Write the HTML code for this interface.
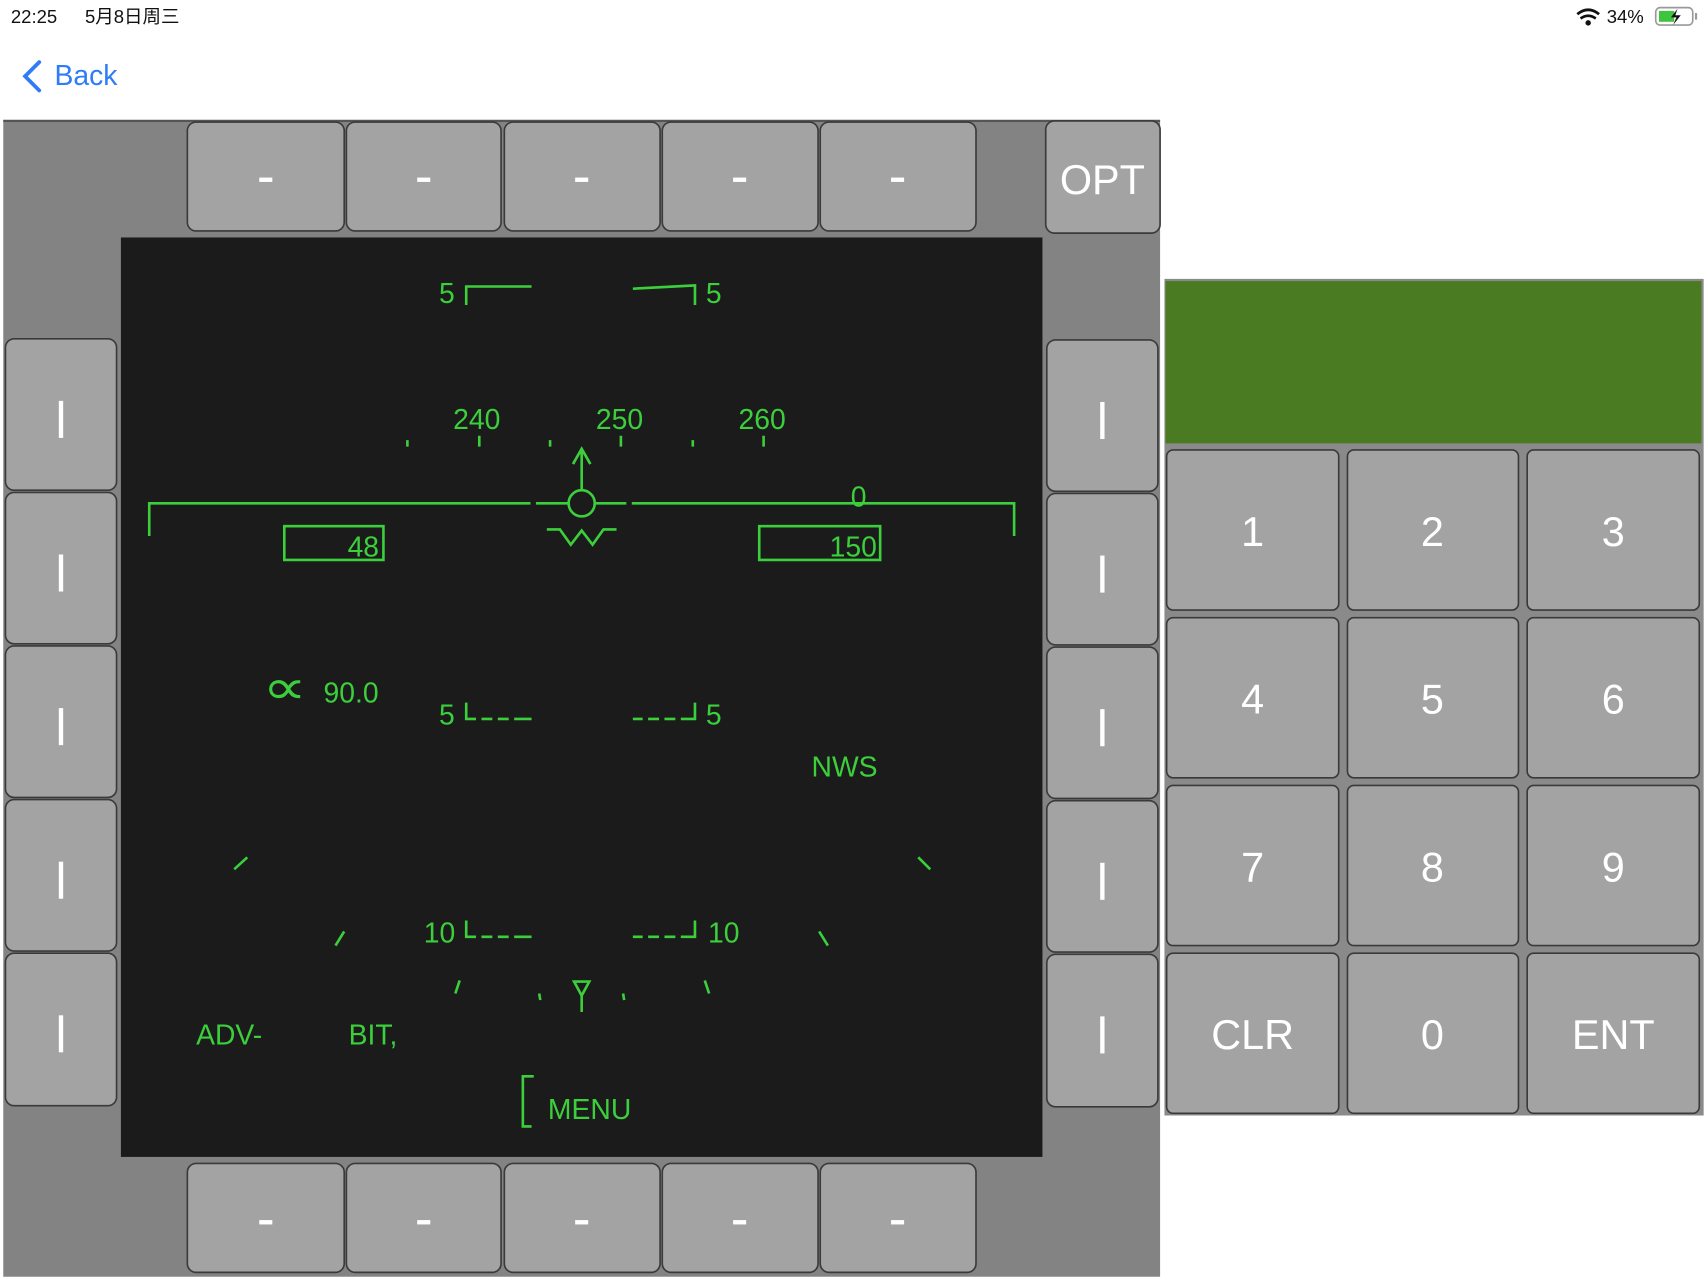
<!DOCTYPE html>
<html><head><meta charset="utf-8"><style>
html,body{margin:0;padding:0;background:#fff;width:1708px;height:1280px;overflow:hidden}
svg{display:block}
.g{fill:none;stroke:#3ccf3c;stroke-width:2.4}
.t{fill:#3ccf3c;font-family:"Liberation Sans",sans-serif;font-size:26px}
.btn{fill:#a3a3a3;stroke:#3a3a3a;stroke-width:1.5}
.w{fill:#fff;font-family:"Liberation Sans",sans-serif;text-anchor:middle}
</style></head><body>
<svg width="1708" height="1280" viewBox="0 0 1568 1175" preserveAspectRatio="none">
<rect width="1568" height="1175" fill="#fff"/>
<text x="10" y="21" font-family="Liberation Sans,sans-serif" font-size="17" fill="#111">22:25</text>
<text x="78" y="21" font-family="Liberation Sans,Noto Sans CJK SC,sans-serif" font-size="17" fill="#111">5月8日周三</text>
<text x="1475" y="21" font-family="Liberation Sans,sans-serif" font-size="17" fill="#111">34%</text>
<path d="M1448 13 q10 -8 20 0 M1451 17 q7 -5 14 0" stroke="#111" stroke-width="2.5" fill="none"/><circle cx="1458" cy="21" r="2.5" fill="#111"/>
<rect x="1520" y="7" width="34" height="16" rx="4" fill="none" stroke="#999" stroke-width="1.5"/><rect x="1523" y="10" width="14" height="10" fill="#3ec43e"/><path d="M1540 8 l-6 8 h5 l-3 7 l7 -9 h-5z" fill="#111"/><rect x="1556" y="12" width="2" height="6" fill="#999"/>
<path d="M36 57 L23 70 L36 83" stroke="#2f7cf6" stroke-width="3.5" fill="none" stroke-linecap="round"/>
<text x="50" y="78" font-family="Liberation Sans,sans-serif" font-size="26" fill="#2f7cf6">Back</text>
<rect x="3" y="110" width="1062" height="1062" fill="#838383"/>
<rect x="3" y="110" width="1062" height="2" fill="#555"/>
<g>
<rect class="btn" x="172" y="112" width="144" height="100" rx="8"/><rect class="btn" x="318" y="112" width="142" height="100" rx="8"/><rect class="btn" x="463" y="112" width="143" height="100" rx="8"/><rect class="btn" x="608" y="112" width="143" height="100" rx="8"/><rect class="btn" x="753" y="112" width="143" height="100" rx="8"/>
<rect class="btn" x="172" y="1068" width="144" height="100" rx="8"/><rect class="btn" x="318" y="1068" width="142" height="100" rx="8"/><rect class="btn" x="463" y="1068" width="143" height="100" rx="8"/><rect class="btn" x="608" y="1068" width="143" height="100" rx="8"/><rect class="btn" x="753" y="1068" width="143" height="100" rx="8"/>
<rect class="btn" x="960" y="111" width="105" height="103" rx="8"/>
</g>
<g fill="#fff"><rect x="238" y="163" width="12" height="4"/><rect x="383" y="163" width="12" height="4"/><rect x="528" y="163" width="12" height="4"/><rect x="673" y="163" width="12" height="4"/><rect x="818" y="163" width="12" height="4"/>
<rect x="238" y="1120" width="12" height="4"/><rect x="383" y="1120" width="12" height="4"/><rect x="528" y="1120" width="12" height="4"/><rect x="673" y="1120" width="12" height="4"/><rect x="818" y="1120" width="12" height="4"/></g>
<text class="w" x="1012" y="178" font-size="38">OPT</text>
<g>
<rect class="btn" x="5" y="311" width="102" height="139" rx="8"/><rect class="btn" x="5" y="452" width="102" height="139" rx="8"/><rect class="btn" x="5" y="593" width="102" height="139" rx="8"/><rect class="btn" x="5" y="734" width="102" height="139" rx="8"/><rect class="btn" x="5" y="875" width="102" height="140" rx="8"/>
<rect class="btn" x="961" y="312" width="102" height="139" rx="8"/><rect class="btn" x="961" y="453" width="102" height="139" rx="8"/><rect class="btn" x="961" y="594" width="102" height="139" rx="8"/><rect class="btn" x="961" y="735" width="102" height="139" rx="8"/><rect class="btn" x="961" y="876" width="102" height="140" rx="8"/>
</g>
<g fill="#fff"><rect x="54" y="368" width="4" height="34"/><rect x="54" y="509" width="4" height="34"/><rect x="54" y="650" width="4" height="34"/><rect x="54" y="791" width="4" height="34"/><rect x="54" y="932" width="4" height="34"/>
<rect x="1010" y="369" width="4" height="34"/><rect x="1010" y="510" width="4" height="34"/><rect x="1010" y="651" width="4" height="34"/><rect x="1010" y="792" width="4" height="34"/><rect x="1010" y="933" width="4" height="34"/></g>
<rect x="111" y="218" width="846" height="844" fill="#1b1b1b"/>
<!-- HUD -->
<text class="t" x="403" y="278">5</text><path class="g" d="M428 280 V263 H488"/>
<path class="g" d="M581 265 L638 262 V280"/><text class="t" x="648" y="278">5</text>
<text class="t" x="416" y="394">240</text><text class="t" x="547" y="394">250</text><text class="t" x="678" y="394">260</text>
<path class="g" d="M440 400V410 M570 400V410 M701 400V410 M374 404V410 M505 404V410 M636 404V410"/>
<path class="g" d="M137 492 V462 H487 M492 462 H521 M547 462 H575 M580 462 H931 V492"/>
<circle class="g" cx="534" cy="462" r="12"/>
<path class="g" d="M534 450 V413 M526 426 L534 412 L542 426"/>
<text class="t" x="781" y="465">0</text>
<rect class="g" x="261" y="483" width="91" height="31"/><text class="t" x="348" y="511" text-anchor="end" font-size="32">48</text>
<rect class="g" x="697" y="483" width="111" height="31"/><text class="t" x="805" y="511" text-anchor="end" font-size="32">150</text>
<path class="g" d="M502 486 H514 L524 500 L534 487 L544 500 L554 486 H566"/>
<text class="t" transform="translate(241,646) scale(2.2,1.7)">∝</text><text class="t" x="297" y="645">90.0</text>
<text class="t" x="403" y="665">5</text><path class="g" d="M428 645 V660 H488"/>
<path class="g" d="M581 660 H638 V645"/><text class="t" x="648" y="665">5</text>
<rect x="437" y="656" width="5" height="6" fill="#1b1b1b"/><rect x="452" y="656" width="5" height="6" fill="#1b1b1b"/><rect x="467" y="656" width="5" height="6" fill="#1b1b1b"/>
<rect x="590" y="656" width="5" height="6" fill="#1b1b1b"/><rect x="605" y="656" width="5" height="6" fill="#1b1b1b"/><rect x="620" y="656" width="5" height="6" fill="#1b1b1b"/>
<text class="t" x="745" y="713" font-size="24">NWS</text>
<path class="g" d="M215 798 L227 787 M843 787 L854 798 M308 868 L316 855 M752 855 L760 868 M418 912 L422 900 M647 900 L651 912 M495 912 L496 918 M572 912 L573 918"/>
<text class="t" x="389" y="865">10</text><path class="g" d="M428 845 V860 H488"/>
<path class="g" d="M581 860 H638 V845"/><text class="t" x="650" y="865">10</text>
<rect x="437" y="856" width="5" height="6" fill="#1b1b1b"/><rect x="452" y="856" width="5" height="6" fill="#1b1b1b"/><rect x="467" y="856" width="5" height="6" fill="#1b1b1b"/>
<rect x="590" y="856" width="5" height="6" fill="#1b1b1b"/><rect x="605" y="856" width="5" height="6" fill="#1b1b1b"/><rect x="620" y="856" width="5" height="6" fill="#1b1b1b"/>
<path class="g" d="M527 901 H541 L534 914 Z M534 914 V929"/>
<text class="t" x="180" y="959" font-size="25">ADV-</text><text class="t" x="320" y="959" font-size="25">BIT,</text>
<path class="g" d="M490 988 H480 V1034 H488"/>
<text class="t" x="503" y="1027" font-size="24">MENU</text>
<!-- keypad -->
<rect x="1069" y="256" width="495" height="768" fill="#8a8a8a"/>
<rect x="1070" y="258" width="492" height="149" fill="#4a7b22"/>
<g>
<rect class="btn" x="1071" y="413" width="158" height="147" rx="6"/><rect class="btn" x="1237" y="413" width="157" height="147" rx="6"/><rect class="btn" x="1402" y="413" width="158" height="147" rx="6"/>
<rect class="btn" x="1071" y="567" width="158" height="147" rx="6"/><rect class="btn" x="1237" y="567" width="157" height="147" rx="6"/><rect class="btn" x="1402" y="567" width="158" height="147" rx="6"/>
<rect class="btn" x="1071" y="721" width="158" height="147" rx="6"/><rect class="btn" x="1237" y="721" width="157" height="147" rx="6"/><rect class="btn" x="1402" y="721" width="158" height="147" rx="6"/>
<rect class="btn" x="1071" y="875" width="158" height="147" rx="6"/><rect class="btn" x="1237" y="875" width="157" height="147" rx="6"/><rect class="btn" x="1402" y="875" width="158" height="147" rx="6"/>
</g>
<g class="w" font-size="38">
<text x="1150" y="501">1</text><text x="1315" y="501">2</text><text x="1481" y="501">3</text>
<text x="1150" y="655">4</text><text x="1315" y="655">5</text><text x="1481" y="655">6</text>
<text x="1150" y="809">7</text><text x="1315" y="809">8</text><text x="1481" y="809">9</text>
<text x="1150" y="963">CLR</text><text x="1315" y="963">0</text><text x="1481" y="963">ENT</text>
</g>
</svg>
</body></html>
